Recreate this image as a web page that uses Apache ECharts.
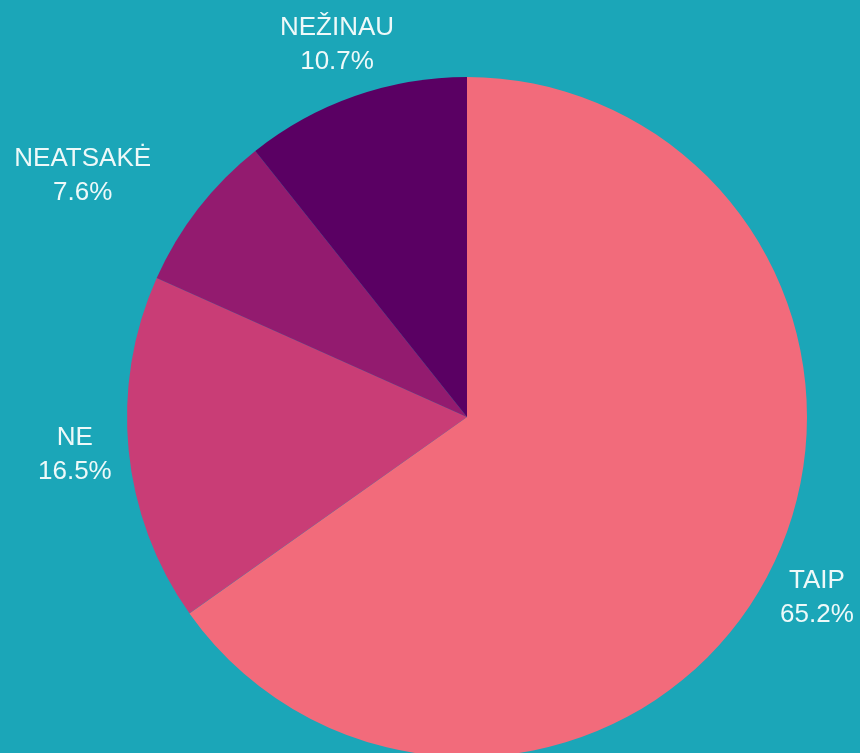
<!DOCTYPE html>
<html>
<head>
<meta charset="utf-8">
<script src="https://cdn.jsdelivr.net/npm/echarts@6/dist/echarts.min.js"></script>
<style>
  html, body { margin: 0; padding: 0; background: #1ba6b8; }
  #chart { width: 860px; height: 753px; }
</style>
</head>
<body>
<div id="chart"></div>
<script>
// answers and their shares (%)
const names = ['TAIP', 'NE', 'NEATSAKĖ', 'NEŽINAU'];
const values = [65.2, 16.5, 7.6, 10.7];
const colors = ['#f26b7b', '#c93d76', '#931b6f', '#5a0063'];

// horizontal nudge of the label for each slice (NEATSAKĖ sits further out)
const labelShift = [0, 0, 73, 0];

const chart = echarts.init(document.getElementById('chart'));

const seriesData = names.map((n, i) => ({
  name: n,
  value: values[i],
  itemStyle: { color: colors[i] },
  labelLine: { length2: labelShift[i] }
}));

chart.setOption({
  backgroundColor: '#1ba6b8',
  animation: false,
  series: [{
    type: 'pie',
    center: [467, 417],
    radius: 340,
    startAngle: 90,
    clockwise: true,
    avoidLabelOverlap: false,
    data: seriesData,
    label: {
      show: true,
      position: 'outside',
      formatter: p => p.name + '\n' + p.value.toFixed(1) + '%',
      color: '#eef9f9',
      fontFamily: 'Liberation Sans, Arial, sans-serif',
      fontSize: 26,
      lineHeight: 34,
      width: 180,
      overflow: 'none'
    },
    labelLine: {
      show: true,
      length: 54,
      length2: 0,
      lineStyle: { opacity: 0 }
    },
    labelLayout: p => {
      const pts = p.labelLinePoints;
      if (!pts) return {};
      const end = pts[pts.length - 1];
      return { x: end[0], y: end[1], align: 'center', verticalAlign: 'middle' };
    },
    emphasis: { disabled: true }
  }]
});
</script>
</body>
</html>
